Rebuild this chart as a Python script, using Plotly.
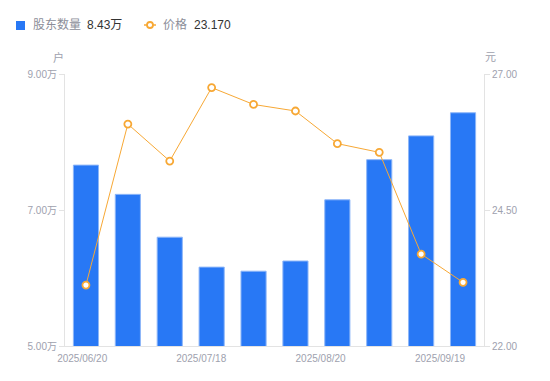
import plotly.graph_objects as go

# ---- data ----
dates = ["2025/06/20", "2025/06/30", "2025/07/10", "2025/07/18", "2025/07/31",
         "2025/08/10", "2025/08/20", "2025/08/31", "2025/09/10", "2025/09/19"]
holders_wan = [7.66, 7.23, 6.60, 6.16, 6.10, 6.25, 7.15, 7.74, 8.09, 8.43]
price = [23.12, 26.08, 25.40, 26.75, 26.44, 26.32, 25.72, 25.56, 23.69, 23.17]
x_tick_labels = ["2025/06/20", "2025/07/18", "2025/08/20", "2025/09/19"]
left_ticks = [5, 7, 9]
right_ticks = [22.0, 24.5, 27.0]

BLUE = "#2878F5"
ORANGE = "#F7A835"
GRAY = "#9EA1AE"
OFF = 8  # page body margin
W, H = 550 - OFF, 381 - OFF
L, R, T, B = 57, 66, 66, 35
PW, PH = W - L - R, H - T - B


def px(x):
    """screen pixel x -> paper coordinate"""
    return (x - OFF - L) / PW


def py(y):
    """screen pixel y -> paper coordinate"""
    return (H - B - (y - OFF)) / PH


idx = list(range(len(dates)))
label_pos = [-0.09, 2.75, 5.60, 8.45]

fig = go.Figure()
fig.add_trace(go.Bar(
    x=idx, y=holders_wan, width=0.6, customdata=dates,
    marker=dict(color=BLUE, line=dict(color="#8DB6F8", width=1)),
    name="股东数量", showlegend=False,
    hovertemplate="%{customdata}<br>%{y:.2f}万<extra></extra>",
))
fig.add_trace(go.Scatter(
    x=idx, y=price, yaxis="y2", mode="lines+markers", customdata=dates,
    line=dict(color=ORANGE, width=1),
    marker=dict(symbol="circle", size=7, color="white",
                line=dict(color=ORANGE, width=1.8)),
    name="价格", showlegend=False,
    hovertemplate="%{customdata}<br>%{y:.2f}<extra></extra>",
))

font_family = "Liberation Sans, Noto Sans CJK SC, sans-serif"
fig.update_layout(
    width=W, height=H,
    margin=dict(l=L, r=R, t=T, b=B),
    plot_bgcolor="white", paper_bgcolor="white",
    font=dict(family=font_family, size=10, color=GRAY),
    xaxis=dict(range=[-0.5, len(dates) - 0.5], tickvals=label_pos,
               ticktext=x_tick_labels, showgrid=False, zeroline=False,
               showline=True, linecolor="#E3E3E3", linewidth=1,
               ticks="", ticklabelstandoff=3, tickfont=dict(size=10, color=GRAY)),
    yaxis=dict(range=[5, 9], tickvals=left_ticks,
               ticktext=[f"{v:.2f}万" for v in left_ticks],
               showgrid=False, zeroline=False, showline=True,
               linecolor="#E3E3E3", linewidth=1, ticks="outside",
               ticklen=5, tickcolor="#E3E3E3", tickfont=dict(size=10, color=GRAY)),
    yaxis2=dict(range=[22, 27], tickvals=right_ticks,
                ticktext=[f"{v:.2f}" for v in right_ticks],
                overlaying="y", side="right", showgrid=False, zeroline=False,
                showline=True, linecolor="#E3E3E3", linewidth=1, ticks="outside",
                ticklen=5, tickcolor="#E3E3E3", tickfont=dict(size=10, color=GRAY)),
    bargap=0.4,
)


def note(x, y, text, size, color, xanchor="left"):
    fig.add_annotation(x=px(x), y=py(y), xref="paper", yref="paper", text=text,
                       xanchor=xanchor, yanchor="middle", showarrow=False,
                       font=dict(size=size, color=color))


# axis unit titles
note(58, 57, "户", 11, GRAY, "center")
note(490, 57, "元", 11, GRAY, "center")

# legend (custom)
fig.add_shape(type="rect", xref="paper", yref="paper",
              x0=px(16), x1=px(25), y0=py(21), y1=py(30),
              fillcolor=BLUE, line=dict(width=0))
fig.add_shape(type="line", xref="paper", yref="paper",
              x0=px(144), x1=px(156), y0=py(25), y1=py(25),
              line=dict(color=ORANGE, width=1.5))
fig.add_shape(type="circle", xref="paper", yref="paper",
              x0=px(147), x1=px(153), y0=py(22), y1=py(28),
              fillcolor="white", line=dict(color=ORANGE, width=1.8))
note(31, 25, "股东数量", 12, "#8C8E99")
note(85, 25, f"{holders_wan[-1]:.2f}万", 12, "#333333")
note(161, 25, "价格", 12, "#8C8E99")
note(192, 25, f"{price[-1]:.3f}", 12, "#333333")

fig.write_html("out.html")
